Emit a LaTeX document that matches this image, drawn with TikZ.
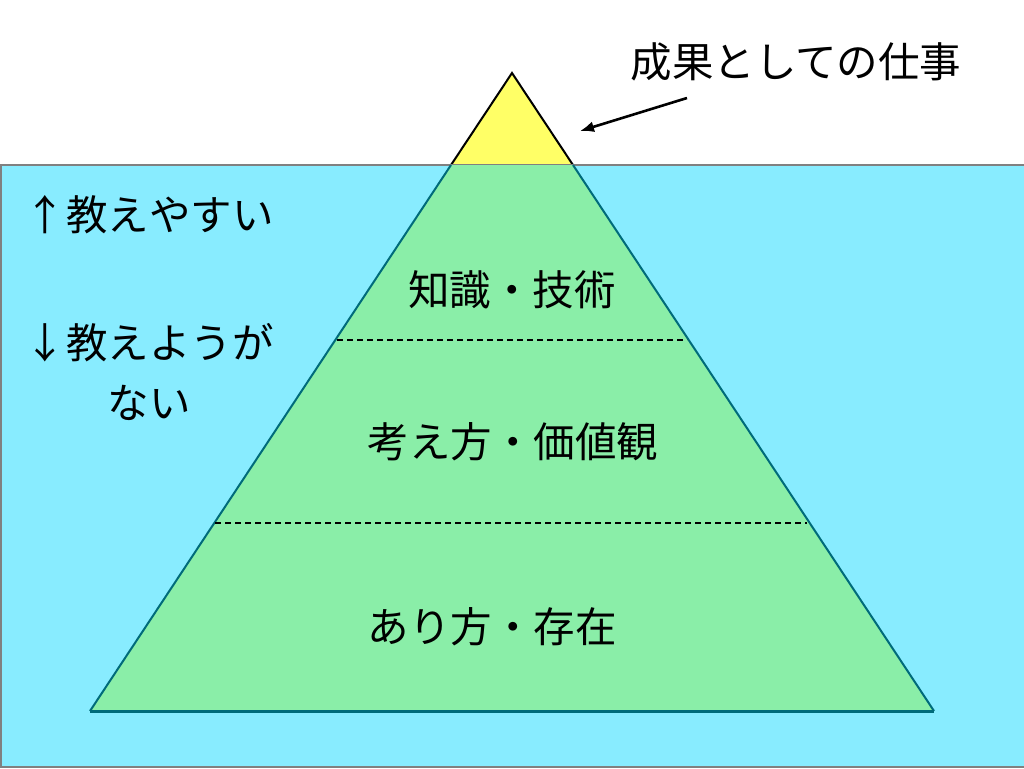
\documentclass[tikz,border=0pt]{standalone}
\usepackage{fontspec}
\setmainfont{Noto Sans CJK JP}
\usetikzlibrary{arrows.meta}
\definecolor{sea}{HTML}{88ECFF}
\definecolor{seaedge}{HTML}{808080}
\definecolor{tipyellow}{HTML}{FFFF66}
\definecolor{bodygreen}{HTML}{8AEEA8}
\definecolor{bodyedge}{HTML}{006B7A}

\begin{document}
\begin{tikzpicture}[x=1pt, y=-1pt,
    big/.style={font=\fontsize{41.5}{60}\selectfont, inner sep=0pt, align=center},
    layer/.style={dashed, dash pattern=on 6pt off 4pt, line width=2.6pt}]
    \useasboundingbox (0,0) rectangle (1024,768);
    \filldraw [fill=tipyellow, line width=2pt] (512,73) -- (451,165) -- (573,165) -- cycle;
    \filldraw [fill=sea, draw=seaedge, line width=2.5pt] (1,165) rectangle (1030,767);
    \fill [bodygreen] (451,165) -- (573,165) -- (934,711) -- (90,711) -- cycle;
    \draw [bodyedge, line width=2pt] (451,165) -- (90,711);
    \draw [bodyedge, line width=2pt] (573,165) -- (934,711);
    \draw [bodyedge, line width=3pt] (90,711) -- (934,711);
    \draw [layer] (337,340) -- (687,340);
    \draw [layer] (215,523) -- (807,523);
    \node [big] (work) at (796,62) {成果としての仕事};
    \coordinate (from) at (687,98);
    \coordinate (tip) at (580,131);
    \draw [-{Latex[length=14pt, width=11pt]}, line width=2.6pt] (from) -- (tip);
    \node [big] (skill) at (512,290) {知識・技術};
    \node [big] (value) at (513,442) {考え方・価値観};
    \node [big] (being) at (492,627) {あり方・存在};
    \node [big] (easy) at (149,215) {↑教えやすい};
    \node [big] (hard) at (149,372) {↓教えようが\\ない};
  \end{tikzpicture}
\end{document}
